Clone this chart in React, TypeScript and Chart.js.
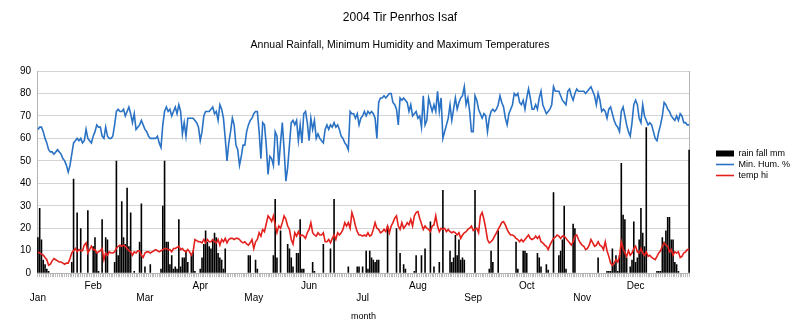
import React, { useEffect, useRef } from 'react';
import { Chart, registerables } from 'chart.js';

Chart.register(...registerables);

const MONTHS = ['Jan', 'Feb', 'Mar', 'Apr', 'May', 'Jun', 'Jul', 'Aug', 'Sep', 'Oct', 'Nov', 'Dec'];
const MONTH_DAYS = [31, 29, 31, 30, 31, 30, 31, 31, 30, 31, 30, 31];

// rain fall mm (daily)
const rainJan = [16, 29, 15, 6, 4, 2, 1, 0, 0, 0, 0, 0, 0, 0, 0, 0, 0, 0, 0, 5, 42, 0, 27, 0, 20, 0, 0, 0, 28, 0, 0];
const rainFeb = [12, 16, 9, 1, 0, 24, 0, 16, 15, 0, 0, 0, 5, 50, 8, 12, 32, 16, 13, 38, 12, 27, 0, 1, 0, 0, 14, 31, 0];
const rainMar = [3, 0, 0, 4, 0, 0, 0, 0, 0, 2, 30, 50, 14, 14, 4, 8, 2, 3, 2, 24, 3, 7, 7, 10, 5, 0, 8, 10, 1, 0, 0];
const rainApr = [2, 7, 13, 19, 14, 12, 11, 15, 18, 16, 9, 7, 6, 2, 11, 0, 0, 0, 0, 0, 0, 0, 0, 0, 0, 0, 0, 8, 8, 0];
const rainMay = [0, 6, 2, 0, 0, 0, 0, 0, 0, 0, 0, 8, 33, 7, 0, 19, 0, 0, 0, 13, 11, 7, 3, 0, 9, 9, 24, 2, 2, 0, 0];
const rainJun = [0, 0, 5, 1, 0, 0, 0, 0, 13, 0, 0, 0, 11, 0, 33, 0, 0, 0, 0, 0, 0, 0, 3, 0, 0, 0, 0, 3, 3, 0];
const rainJul = [3, 0, 10, 2, 10, 7, 6, 5, 6, 6, 0, 0, 0, 0, 21, 0, 0, 0, 0, 20, 0, 9, 0, 4, 2, 0, 0, 0, 0, 1, 8];
const rainAug = [0, 0, 8, 0, 11, 0, 0, 23, 0, 3, 0, 0, 5, 0, 37, 0, 0, 0, 10, 5, 7, 17, 8, 15, 6, 7, 6, 0, 0, 0, 0];
const rainSep = [0, 37, 0, 0, 0, 0, 0, 0, 0, 2, 10, 5, 0, 0, 19, 0, 0, 0, 0, 0, 0, 0, 0, 0, 14, 2, 0, 0, 10, 10];
const rainOct = [9, 0, 0, 0, 0, 0, 9, 7, 3, 0, 0, 4, 1.5, 0, 0, 36, 0, 0, 8, 10, 15, 30, 2, 0, 0, 0, 22, 20, 0, 0, 0];
const rainNov = [0, 0, 0, 0, 0, 0, 0, 0, 0, 7, 0, 0, 0, 0, 1, 1, 1, 11, 4, 8, 1, 8, 49, 26, 24, 7, 0, 3, 6, 23];
const rainDec = [5, 7, 15, 29, 18, 12, 65, 0, 0, 0, 0, 0, 1, 1, 1, 16, 14, 19, 25, 25, 15, 15, 5, 4, 1, 0, 0, 0, 0, 0, 55];

// Min. Hum. %
const humJan = [64, 65, 65, 63, 60, 58, 55, 54, 54, 53, 54, 55, 54, 53, 51, 50, 48, 45, 48, 53, 58, 59, 60, 59, 60, 58, 59, 64, 60, 59, 58];
const humFeb = [61, 63, 66, 65, 65, 61, 60, 65, 61, 60, 60, 61, 66, 72, 73, 72, 72, 73, 70, 72, 74, 71, 67, 71, 64, 65, 66, 68, 66];
const humMar = [64, 63, 61, 60, 60, 60, 60, 61, 58, 56, 66, 72, 74, 72, 73, 70, 72, 74, 71, 75, 72, 62, 67, 61, 69, 69, 69, 69, 68, 67, 65];
const humApr = [59, 63, 70, 72, 72, 72, 73, 74, 71, 72, 68, 75, 73, 69, 60, 50, 58, 63, 69, 66, 57, 55, 48, 52, 57, 57, 63, 66, 68, 69];
const humMay = [71, 72, 72, 63, 51, 67, 66, 57, 44, 52, 51, 48, 63, 61, 48, 58, 67, 55, 41, 47, 57, 67, 68, 66, 68, 59, 66, 58, 71, 72, 67];
const humJun = [59, 69, 64, 68, 60, 62, 60, 59, 58, 64, 66, 64, 66, 65, 67, 65, 66, 64, 61, 60, 58, 57, 55, 72, 71, 71, 69, 71, 66, 69];
const humJul = [70, 72, 70, 72, 71, 72, 71, 69, 60, 76, 78, 78, 79, 78, 79, 80, 80, 76, 75, 73, 66, 78, 77, 78, 77, 76, 72, 75, 70, 71, 72];
const humAug = [69, 70, 65, 79, 66, 68, 78, 75, 72, 75, 72, 81, 72, 78, 60, 63, 66, 69, 75, 68, 73, 78, 73, 76, 78, 79, 83, 75, 78, 72, 63];
const humSep = [63, 79, 77, 73, 71, 69, 71, 70, 63, 69, 72, 73, 72, 73, 75, 79, 76, 74, 69, 66, 71, 73, 75, 80, 79, 80, 76, 75, 77, 73];
const humOct = [78, 82, 78, 73, 73, 75, 73, 78, 81, 75, 73, 71, 72, 73, 75, 83, 81, 81, 81, 79, 77, 76, 75, 81, 82, 79, 77, 80, 82, 81, 81];
const humNov = [81, 81, 80, 81, 82, 83, 81, 79, 75, 80, 77, 72, 73, 72, 69, 73, 74, 71, 68, 66, 65, 63, 72, 74, 70, 66, 63, 61, 67, 75];
const humDec = [77, 75, 69, 67, 75, 70, 68, 66, 67, 66, 63, 60, 59, 63, 66, 70, 76, 75, 73, 72, 70, 69, 68, 70, 68, 71, 70, 67, 67, 66, 66];

// temp hi
const tempJan = [9.5, 9, 8.5, 8, 7, 6, 3.5, 4, 5.5, 6.5, 6, 5.5, 5, 5, 4.5, 4, 4.5, 4.5, 6.5, 9, 10, 11, 9.5, 10.5, 10, 10, 12.5, 13.5, 9, 10.5, 12];
const tempFeb = [10.5, 10.5, 9, 9.5, 10, 11, 6, 9, 8, 9.5, 9, 9, 9.5, 11, 12, 12.5, 12, 12.5, 12, 11, 10, 9.5, 8, 9.5, 9, 10, 10, 8, 7];
const tempMar = [9, 9.5, 9.5, 9, 9.5, 10, 10.5, 10, 9.5, 10, 10.5, 11, 11, 10.5, 10.5, 9.5, 11, 11, 11.5, 12, 10.5, 11, 10, 9.5, 10.5, 9.5, 8, 9.5, 15, 14.5, 14];
const tempApr = [14, 13.5, 15, 13.5, 15, 14, 14, 15, 14, 13.5, 15, 12.5, 15, 14, 15.5, 13.5, 15, 15.5, 15.5, 15, 15.5, 15.5, 15, 14, 13.5, 14, 13, 12.5, 13.5, 15];
const tempMay = [11, 14, 15, 18, 16.5, 19.5, 18.5, 22, 25.5, 24.5, 23, 25.5, 21.5, 18, 21, 20, 22.5, 25.5, 24, 21, 19.5, 15, 13, 18, 16.5, 18.5, 16.5, 17, 16.5, 15.5, 18];
const tempJun = [19.5, 22.5, 18, 17, 16.5, 18, 17, 17, 18, 14, 14, 15, 13.5, 15.5, 17, 15, 18, 17, 18, 19.5, 22.5, 21, 22.5, 20, 27, 24.5, 21, 18.5, 17, 17];
const tempJul = [16.5, 17, 16.5, 18, 16.5, 17, 19.5, 22.5, 20, 19.5, 18, 18.5, 19.5, 18.5, 21, 18, 21, 22.5, 24.5, 25.5, 21, 19.5, 22.5, 20, 21, 22.5, 21.5, 24, 21, 25.5, 27];
const tempAug = [27.5, 24.5, 22, 19.5, 21, 20, 19.5, 18.5, 21, 21.5, 25.5, 21, 18.5, 20, 19.5, 20, 18.5, 19.5, 18.5, 18, 18.5, 18, 17, 18, 15.5, 17, 18, 18.5, 19.5, 20, 21];
const tempSep = [19, 19.5, 20, 18, 25.5, 27, 24, 20, 15, 13.5, 14, 15, 16.5, 18, 19.5, 21, 22.5, 23, 21.5, 19.5, 18, 17, 17, 16.5, 15.5, 15, 14, 15, 14, 15];
const tempOct = [16, 17, 15.5, 15, 15.5, 16.5, 15.5, 16.5, 14, 13.5, 12.5, 12, 10.5, 12.5, 14, 15.5, 16, 17, 16.5, 15.5, 16.5, 16.5, 15.5, 14.5, 13.5, 12.5, 14, 16.5, 17, 15, 13.5];
const tempNov = [12.5, 12, 10.5, 11, 12.5, 15, 13.5, 12, 12.5, 14, 12.5, 12, 10.5, 14, 10, 7.5, 4.5, 3.5, 4.5, 6, 5, 7.5, 14, 11, 9, 7.5, 10, 8, 9, 11];
const tempDec = [12, 9.5, 9, 11, 9, 8, 9.5, 7.5, 8, 7, 6.5, 6, 7.5, 9, 10, 12, 13.5, 12.5, 12, 9.5, 10.5, 8, 9.5, 9, 9.5, 7, 7.5, 9, 9.5, 10.5, 10.5];

const Y_TICKS_MAX = 90;
const Y_TICKS_STEP = 10;

const rain = [...rainJan, ...rainFeb, ...rainMar, ...rainApr, ...rainMay, ...rainJun, ...rainJul, ...rainAug, ...rainSep, ...rainOct, ...rainNov, ...rainDec];
const hum = [...humJan, ...humFeb, ...humMar, ...humApr, ...humMay, ...humJun, ...humJul, ...humAug, ...humSep, ...humOct, ...humNov, ...humDec];
const temp = [...tempJan, ...tempFeb, ...tempMar, ...tempApr, ...tempMay, ...tempJun, ...tempJul, ...tempAug, ...tempSep, ...tempOct, ...tempNov, ...tempDec];

// category labels: one per day, month name at first day of each month
const dayLabels: string[] = [];
const monthStartIndex: Record<number, number> = {};
MONTH_DAYS.forEach((n, m) => {
  monthStartIndex[dayLabels.length] = m;
  for (let d = 1; d <= n; d++) dayLabels.push(`${MONTHS[m]} ${d}`);
});

const FONT = "'Liberation Sans', Arial, Helvetica, sans-serif";

export default function App() {
  const ref = useRef<HTMLCanvasElement | null>(null);

  useEffect(() => {
    document.body.style.margin = '0';
    const canvas = ref.current;
    if (!canvas) return;
    Chart.defaults.font.family = FONT;
    Chart.defaults.color = '#000';

    const legendShift = {
      id: 'legendShift',
      afterLayout(chart: any) {
        const l = chart.legend;
        if (l) {
          l.top -= 1;
          l.bottom -= 1;
        }
      },
    };

    const chart = new Chart(canvas, {
      type: 'bar',
      data: {
        labels: dayLabels,
        datasets: [
          {
            type: 'bar',
            label: 'rain fall mm',
            data: rain,
            backgroundColor: '#000000',
            borderWidth: 0,
            barPercentage: 0.9,
            categoryPercentage: 1,
            order: 3,
            yAxisID: 'y',
          },
          {
            type: 'line',
            label: 'Min. Hum. %',
            data: hum,
            borderColor: '#2a72c4',
            backgroundColor: '#2a72c4',
            borderWidth: 1.6,
            pointRadius: 0,
            tension: 0,
            order: 2,
            yAxisID: 'y',
          },
          {
            type: 'line',
            label: 'temp hi',
            data: temp,
            borderColor: '#e3201c',
            backgroundColor: '#e3201c',
            borderWidth: 1.6,
            pointRadius: 0,
            tension: 0,
            order: 1,
            yAxisID: 'y',
          },
        ] as any,
      },
      options: {
        responsive: false,
        animation: false,
        maintainAspectRatio: false,
        layout: { padding: { left: 0, right: 0, top: 0, bottom: 0 } },
        plugins: {
          title: {
            display: true,
            text: '2004 Tir Penrhos Isaf',
            color: '#000',
            font: { family: FONT, size: 12, weight: 'normal' },
            padding: { top: 10, bottom: 14 },
          },
          subtitle: {
            display: true,
            text: 'Annual Rainfall, Minimum Humidity and Maximum Temperatures',
            color: '#000',
            font: { family: FONT, size: 10.5, weight: 'normal' },
            padding: { top: 0, bottom: 20 },
          },
          legend: {
            display: true,
            position: 'right',
            labels: {
              color: '#000',
              font: { family: FONT, size: 9 },
              usePointStyle: true,
              pointStyleWidth: 18,
              boxHeight: 6,
              padding: 2,
              generateLabels: (c: any) => {
                const items = (Chart.defaults.plugins.legend.labels as any).generateLabels(c);
                items.sort((a: any, b: any) => a.datasetIndex - b.datasetIndex);
                items.forEach((it: any) => {
                  if (it.datasetIndex === 0) {
                    it.pointStyle = 'rect';
                    it.lineWidth = 0;
                  } else {
                    it.pointStyle = 'line';
                  }
                });
                return items;
              },
            },
          },
          tooltip: { enabled: false },
        },
        scales: {
          x: {
            type: 'category',
            offset: true,
            grid: {
              display: true,
              drawOnChartArea: false,
              drawTicks: true,
              tickLength: 4,
              color: '#bdbdbd',
              offset: false,
            },
            border: { display: true, color: '#b3b3b3' },
            ticks: {
              autoSkip: false,
              maxRotation: 0,
              minRotation: 0,
              padding: 3,
              color: '#000',
              font: { family: FONT, size: 10 },
              callback: (_v: any, idx: number) => {
                const m = monthStartIndex[idx];
                if (m === undefined) return '';
                return m % 2 === 0 ? ['', MONTHS[m]] : MONTHS[m];
              },
            },
            title: {
              display: true,
              text: 'month',
              color: '#000',
              font: { family: FONT, size: 9 },
              padding: { top: 4, bottom: 9 },
            },
          },
          y: {
            type: 'linear',
            position: 'left',
            min: 0,
            max: Y_TICKS_MAX,
            grid: { color: '#d4d4d4', drawTicks: false },
            border: { display: true, color: '#b3b3b3' },
            ticks: {
              stepSize: Y_TICKS_STEP,
              padding: 6,
              color: '#000',
              font: { family: FONT, size: 10 },
            },
            afterFit: (s: any) => {
              s.width = 37;
            },
          },
          yR: {
            type: 'linear',
            position: 'right',
            display: true,
            grid: { display: false, drawTicks: false },
            border: { display: true, color: '#b3b3b3' },
            ticks: { display: false },
            afterFit: (s: any) => {
              s.width = 24;
            },
          },
        },
      } as any,
      plugins: [legendShift],
    });

    return () => chart.destroy();
  }, []);

  return (
    <div style={{ width: 800, height: 331 }}>
      <canvas ref={ref} width={800} height={331} />
    </div>
  );
}
